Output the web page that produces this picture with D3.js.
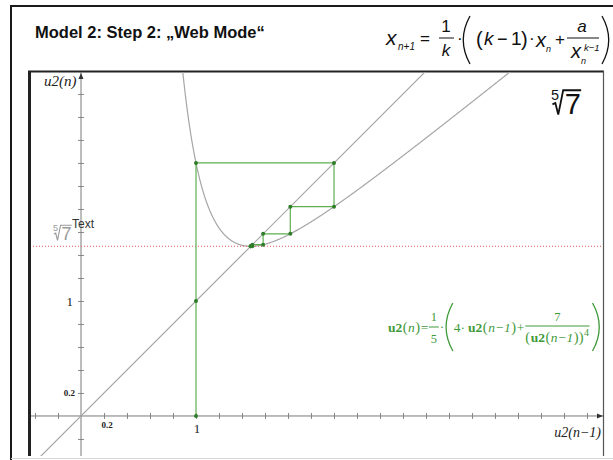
<!DOCTYPE html>
<html><head><meta charset="utf-8">
<script src="https://cdn.jsdelivr.net/npm/d3@7"></script>
<style>body{margin:0;background:#fff} svg{display:block}</style>
</head><body><svg id="c" width="613" height="460"></svg>
<script>
// Newton-type recurrence for the k-th root of a:
// x(n+1) = 1/k * ((k-1) * x(n) + a / x(n)^(k-1)), here k = 5, a = 7
const kRoot = 5;
const radicand = 7;
// Iterates u2(0), u2(1), ... of the recurrence, starting at 1
const iterates = [1, 2.2, 1.8198, 1.5835, 1.4895, 1.4760, 1.4758];
// Graph window
const xWindow = [-0.4435, 4.539];
const yWindow = [-0.348, 2.991];
const tickStep = 0.2;
const xTickLabels = [0.2, 1];
const yTickLabels = [0.2, 1];
const rootValue = Math.pow(radicand, 1 / kRoot);

const svg = d3.select("#c");
const W = 613, H = 460;
const plot = {left: 30, right: 603, top: 72, bottom: 456};

const x = d3.scaleLinear().domain(xWindow).range([plot.left, plot.right]);
const y = d3.scaleLinear().domain(yWindow).range([plot.bottom, plot.top]);

const GRAY = "#a6a6a6", GREEN = "#5fae52", DGREEN = "#2f7d2a", FGREEN = "#3f9a3a";
const SERIF = "'Liberation Serif','DejaVu Serif',serif", SANS = "'Liberation Sans',Arial,sans-serif";

svg.append("rect").attr("width", W).attr("height", H).attr("fill", "#fff");

// Slide frame
svg.append("line").attr("x1", 11).attr("x2", 11).attr("y1", 5).attr("y2", 460).attr("stroke", "#1a1a1a").attr("stroke-width", 2);
svg.append("line").attr("x1", 10).attr("x2", W).attr("y1", 6).attr("y2", 6).attr("stroke", "#1a1a1a").attr("stroke-width", 2);
svg.append("line").attr("x1", 11).attr("x2", W).attr("y1", 458.5).attr("y2", 458.5).attr("stroke", "#d6d6d6").attr("stroke-width", 1);

// Title
svg.append("text").attr("x", 35).attr("y", 38).attr("font-family", SANS).attr("font-weight", "bold")
  .attr("font-size", 16.5).attr("fill", "#111").text("Model 2: Step 2: \u201EWeb Mode\u201C");

function t(g, s, px, py, size, opts = {}) {
  const e = g.append("text").attr("x", px).attr("y", py).attr("font-size", size).text(s);
  if (opts.italic) e.attr("font-style", "italic");
  if (opts.anchor) e.attr("text-anchor", opts.anchor);
  if (opts.weight) e.attr("font-weight", opts.weight);
  if (opts.fill) e.attr("fill", opts.fill);
  return e;
}
function bigParen(g, px, y0, y1, dir, color, w) {
  const h = y1 - y0;
  g.append("path").attr("d", `M${px},${y0} Q${px - dir * h * 0.28},${(y0 + y1) / 2} ${px},${y1}`)
    .attr("fill", "none").attr("stroke", color).attr("stroke-width", w);
}

// Recurrence formula (top right)
const F = svg.append("g").attr("font-family", SANS).attr("fill", "#111");
t(F, "x", 386, 45, 21, {italic: true});
t(F, "n+1", 398, 50, 10, {italic: true});
t(F, "=", 420, 44, 17);
t(F, "1", 446, 32, 17, {anchor: "middle"});
F.append("line").attr("x1", 439).attr("x2", 454).attr("y1", 38).attr("y2", 38).attr("stroke", "#111").attr("stroke-width", 1);
t(F, "k", 446, 56, 17, {anchor: "middle", italic: true});
t(F, "\u00B7", 457, 44, 17);
bigParen(F, 470, 16, 64, 1, "#111", 1.3);
t(F, "(", 476, 46, 20);
t(F, "k", 484, 45, 19, {italic: true});
t(F, "\u2212", 497, 45, 18);
t(F, "1", 511, 45, 19);
t(F, ")", 521, 46, 20);
t(F, "\u00B7", 529, 44, 17);
t(F, "x", 536, 47, 20, {italic: true});
t(F, "n", 546, 52, 9, {italic: true});
t(F, "+", 555, 45, 17);
t(F, "a", 582, 32, 17, {anchor: "middle", italic: true});
F.append("line").attr("x1", 567).attr("x2", 599).attr("y1", 38).attr("y2", 38).attr("stroke", "#111").attr("stroke-width", 1);
t(F, "x", 571, 58, 20, {italic: true});
t(F, "n", 581, 64, 9, {italic: true});
t(F, "k\u22121", 584, 51, 9.5, {italic: true});
bigParen(F, 602, 16, 64, -1, "#111", 1.3);

// Graph frame
svg.append("line").attr("x1", plot.left - 0.5).attr("x2", plot.left - 0.5).attr("y1", plot.top - 1).attr("y2", plot.bottom).attr("stroke", "#222").attr("stroke-width", 3);
svg.append("line").attr("x1", plot.left - 2).attr("x2", plot.right + 1).attr("y1", plot.top - 0.5).attr("y2", plot.top - 0.5).attr("stroke", "#222").attr("stroke-width", 2);
svg.append("line").attr("x1", plot.right + 0.5).attr("x2", plot.right + 0.5).attr("y1", plot.top - 1).attr("y2", plot.bottom).attr("stroke", "#555").attr("stroke-width", 1.2);

svg.append("clipPath").attr("id", "clip").append("rect")
  .attr("x", plot.left + 1).attr("y", plot.top).attr("width", plot.right - plot.left - 1).attr("height", plot.bottom - plot.top);
const G = svg.append("g").attr("clip-path", "url(#clip)");

// Axes with crossing tick marks
const xTicks = d3.range(-0.4, 4.5, tickStep).filter(v => Math.abs(v) > 1e-9);
const yTicks = d3.range(-0.2, 3.0, tickStep).filter(v => Math.abs(v) > 1e-9);
G.append("g").attr("transform", `translate(0,${y(0) - 3})`)
  .call(d3.axisBottom(x).tickValues(xTicks).tickSize(6).tickFormat(""))
  .call(g => { g.select(".domain").remove(); g.selectAll("line").attr("stroke", "#8a8a8a"); });
G.append("g").attr("transform", `translate(${x(0) + 3},0)`)
  .call(d3.axisLeft(y).tickValues(yTicks).tickSize(6).tickFormat(""))
  .call(g => { g.select(".domain").remove(); g.selectAll("line").attr("stroke", "#8a8a8a"); });
G.append("line").attr("x1", plot.left).attr("x2", plot.right).attr("y1", y(0)).attr("y2", y(0)).attr("stroke", "#7a7a7a");
G.append("line").attr("x1", x(0)).attr("x2", x(0)).attr("y1", plot.top).attr("y2", plot.bottom).attr("stroke", "#7a7a7a");
svg.append("path").attr("d", `M${x(0)},${plot.top + 1} l-2.5,6 h5 z`).attr("fill", "#333");
svg.append("path").attr("d", `M${plot.right},${y(0)} l-6,-2.5 v5 z`).attr("fill", "#333");

// Line y = x
G.append("line").attr("x1", x(xWindow[0])).attr("y1", y(xWindow[0])).attr("x2", x(yWindow[1] + 0.1)).attr("y2", y(yWindow[1] + 0.1))
  .attr("stroke", GRAY).attr("stroke-width", 1.2);

// Curve of the recurrence function
const f = v => ((kRoot - 1) * v + radicand / Math.pow(v, kRoot - 1)) / kRoot;
const curveX = d3.range(0.84, 4.2, 0.004);
G.append("path").datum(curveX)
  .attr("d", d3.line().x(v => x(v)).y(v => y(f(v))))
  .attr("fill", "none").attr("stroke", GRAY).attr("stroke-width", 1.2);

// Horizontal marker at the root value
G.append("line").attr("x1", plot.left).attr("x2", plot.right).attr("y1", y(rootValue)).attr("y2", y(rootValue))
  .attr("stroke", "#e05a5a").attr("stroke-width", 1).attr("stroke-dasharray", "1,2");

// Cobweb path
const web = [[iterates[0], 0]];
for (let i = 0; i < iterates.length - 1; i++) {
  web.push([iterates[i], iterates[i + 1]]);
  web.push([iterates[i + 1], iterates[i + 1]]);
}
G.append("path").datum(web).attr("d", d3.line().x(d => x(d[0])).y(d => y(d[1])))
  .attr("fill", "none").attr("stroke", GREEN).attr("stroke-width", 1.2);
const dots = web.concat([[iterates[0], iterates[0]]]);
G.selectAll("circle.w").data(dots).join("circle").attr("class", "w")
  .attr("cx", d => x(d[0])).attr("cy", d => y(d[1])).attr("r", 2).attr("fill", DGREEN);

// Tick labels
const L = svg.append("g").attr("font-family", SERIF).attr("fill", "#222");
L.selectAll("text.xl").data(xTickLabels).join("text").attr("class", "xl")
  .attr("x", d => x(d) + (d < 1 ? 3 : 1)).attr("y", d => y(0) + (d < 1 ? 12 : 17))
  .attr("text-anchor", "middle").attr("font-size", d => d < 1 ? 9 : 13).attr("font-weight", d => d < 1 ? "bold" : "normal")
  .text(d => d);
L.selectAll("text.yl").data(yTickLabels).join("text").attr("class", "yl")
  .attr("x", d => x(0) - (d < 1 ? 6 : 8)).attr("y", d => y(d) + (d < 1 ? 3 : 5))
  .attr("text-anchor", "end").attr("font-size", d => d < 1 ? 9 : 13).attr("font-weight", d => d < 1 ? "bold" : "normal")
  .text(d => d);

// Axis titles
t(L, "u2(n)", 44, 86, 15, {italic: true});
t(L, "u2(n\u22121)", 601, 437, 14, {italic: true, anchor: "end"});

// Radical helper: k-th root sign over a digit
function radical(g, px, baseY, size, color, idx, body) {
  const s = size;
  g.append("text").attr("x", px).attr("y", baseY - s * 0.48).attr("font-size", s * 0.5).attr("font-family", SANS).attr("fill", color).text(idx);
  const x0 = px + s * 0.05, xTop = px + s * 0.42, top = baseY - s * 0.82;
  g.append("path").attr("d", `M${x0},${baseY - s * 0.33} L${x0 + s * 0.1},${baseY - s * 0.38} L${px + s * 0.25},${baseY + s * 0.02} L${xTop},${top} H${xTop + s * 0.62}`)
    .attr("fill", "none").attr("stroke", color).attr("stroke-width", Math.max(1, s / 16));
  g.append("text").attr("x", xTop + s * 0.05).attr("y", baseY).attr("font-size", s).attr("font-family", SANS).attr("fill", color).text(body);
}
radical(svg, 551, 114, 29, "#111", kRoot, radicand);
radical(svg, 53, 240, 18, "#9a9a9a", kRoot, radicand);
t(svg, "Text", 72, 228, 12, {fill: "#333"}).attr("font-family", SANS);

// Function label in green, laid out piece by piece
const Gf = svg.append("g").attr("font-family", SERIF).attr("fill", FGREEN);
const FS = 13.5, base = 332;
let cx = 388;
function put(s, opts = {}, yy = base, size = FS, gap = 0.5) {
  const e = t(Gf, s, cx, yy, size, opts);
  cx += e.node().getComputedTextLength() + gap;
  return e;
}
put("u2", {weight: "bold"});
put("(", {}, base, FS + 1);
put("n", {italic: true});
put(")", {}, base, FS + 1);
put("=");
// fraction 1/5
{
  const fx = cx + 5;
  t(Gf, "1", fx, base - 11, 12.5, {anchor: "middle"});
  Gf.append("line").attr("x1", fx - 5).attr("x2", fx + 5).attr("y1", base - 5).attr("y2", base - 5).attr("stroke", FGREEN);
  t(Gf, "5", fx, base + 11, 12.5, {anchor: "middle"});
  cx = fx + 6;
}
put("\u00B7", {}, base - 1);
bigParen(Gf, cx + 8, 303, 351, 1, FGREEN, 1.3);
cx += 9;
put("4\u00B7", {}, base, FS, 3);
put("u2", {weight: "bold"});
put("(", {}, base, FS + 1);
put("n\u22121", {italic: true});
put(")", {}, base, FS + 1);
put("+", {}, base, FS, 1);
// fraction 7 / (u2(n-1))^4
{
  const x0 = cx;
  const yd = base + 10;
  put("(", {}, yd, FS + 1);
  put("u2", {weight: "bold"}, yd);
  put("(", {}, yd, FS + 1);
  put("n\u22121", {italic: true}, yd);
  put("))", {}, yd, FS + 1);
  put("4", {}, yd - 6, 10);
  const x1 = cx;
  Gf.append("line").attr("x1", x0).attr("x2", x1).attr("y1", base - 6).attr("y2", base - 6).attr("stroke", FGREEN);
  t(Gf, "7", (x0 + x1) / 2, base - 11, 12.5, {anchor: "middle"});
  cx = x1;
}
bigParen(Gf, cx + 3, 303, 351, -1, FGREEN, 1.3);
</script></body></html>
